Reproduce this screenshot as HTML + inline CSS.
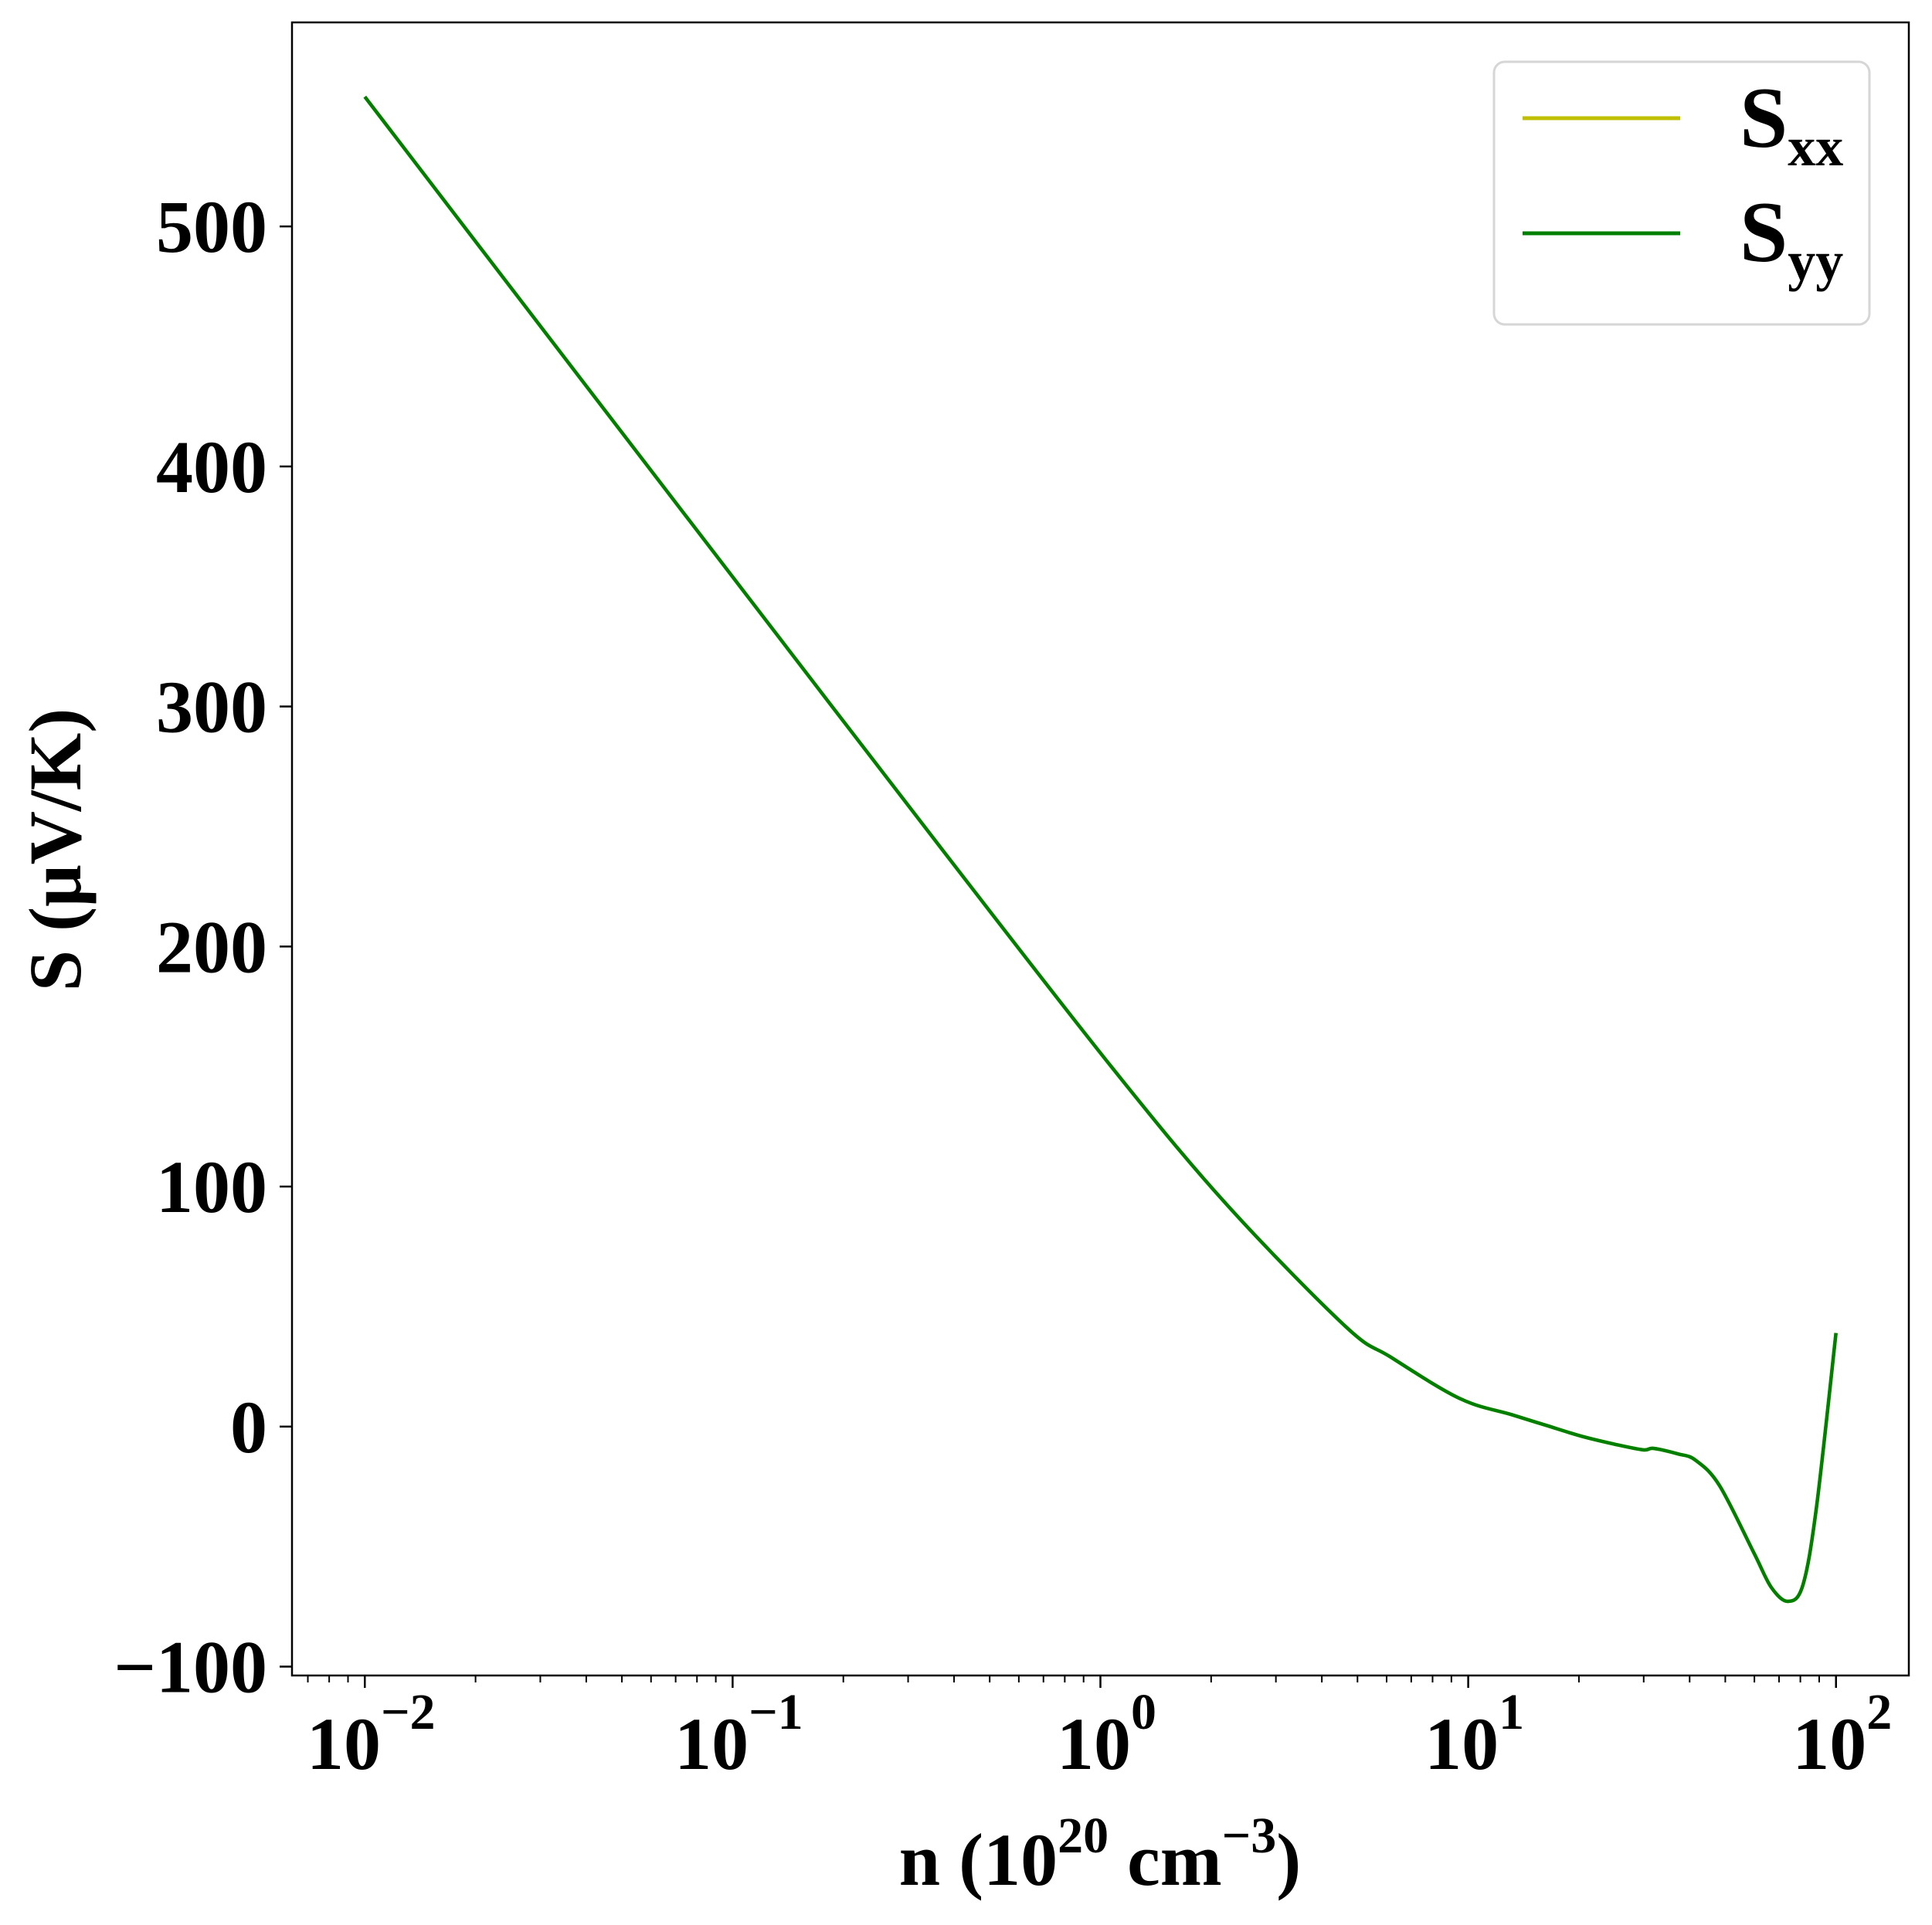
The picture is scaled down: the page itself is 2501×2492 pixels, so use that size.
<!DOCTYPE html>
<html><head><meta charset="utf-8"><title>Seebeck coefficient vs carrier concentration</title>
<style>
html,body{margin:0;padding:0;background:#fff;}
svg{display:block;font-family:"Liberation Serif","DejaVu Serif",serif;font-weight:bold;}
</style></head>
<body>
<svg id="chart" width="2501" height="2492" viewBox="0 0 2501 2492" xmlns="http://www.w3.org/2000/svg">
<rect x="0" y="0" width="2501" height="2492" fill="#fff"/>
<g id="plot"></g>
<g id="xticks"></g>
<g id="yticks"></g>
<rect x="378" y="29" width="2093" height="2140" fill="none" stroke="#000" stroke-width="2.5"/>
<text x="1424" y="2440" text-anchor="middle" font-size="96">n (10<tspan dy="-42" font-size="66">20</tspan><tspan dy="42"> cm</tspan><tspan dy="-42" font-size="66">−3</tspan><tspan dy="42">)</tspan></text>
<text transform="translate(104,1100) rotate(-90)" text-anchor="middle" font-size="96">S (μV/K)</text>
<g>
<rect x="1934" y="80" width="486" height="340" rx="14" fill="#fff" fill-opacity="0.8" stroke="#d6d6d6" stroke-width="3"/>
<line x1="1971" y1="153" x2="2175" y2="153" stroke="#bfbf00" stroke-width="5"/>
<text x="2252" y="190" font-size="112">S<tspan font-size="72" dy="24">xx</tspan></text>
<line x1="1971" y1="302" x2="2175" y2="302" stroke="#008000" stroke-width="5"/>
<text x="2252" y="338" font-size="112">S<tspan font-size="72" dy="24">yy</tspan></text>
</g>
</svg>
<script>
const nValues = [0.01, 0.0316, 0.1, 0.373, 1.07, 2.19, 4.62, 6.15, 9.48, 13.1, 16.3, 20.3, 25.1, 29.9, 31.9, 37.2, 41.5, 48.2, 59.8, 66.7, 74.1, 81.3, 88.5, 100];
const sxxValues = [554, 454, 354, 240, 150, 93, 42, 29, 11.7, 5, 0.5, -4, -7.4, -9.7, -9.1, -11.4, -14, -24.5, -52.6, -67, -72.8, -66, -33.5, 39];
const syyValues = [554, 454, 354, 240, 150, 93, 42, 29, 11.7, 5, 0.5, -4, -7.4, -9.7, -9.1, -11.4, -14, -24.5, -52.6, -67, -72.8, -66, -33.5, 39];
const xMajorExps = [-2, -1, 0, 1, 2];
const yTickValues = [-100, 0, 100, 200, 300, 400, 500];
const yTickLabels = ["−100", "0", "100", "200", "300", "400", "500"];

const NS = "http://www.w3.org/2000/svg";
const L = 378, R = 2471, T = 29, B = 2169;
const xLogMin = -2.198, xLogMax = 2.198, yMin = -103.7, yMax = 585;
function xScale(n){ return L + (Math.log10(n) - xLogMin) / (xLogMax - xLogMin) * (R - L); }
function yScale(v){ return B - (v - yMin) / (yMax - yMin) * (B - T); }
function mk(tag, attrs, parent){ const e = document.createElementNS(NS, tag); for (const k in attrs) e.setAttribute(k, attrs[k]); parent.appendChild(e); return e; }

function pathFor(xs, ys){
  const p = xs.map((n, i) => [xScale(n), yScale(ys[i])]);
  let d = "M" + p[0][0].toFixed(1) + "," + p[0][1].toFixed(1);
  for (let i = 0; i < p.length - 1; i++){
    const p0 = p[Math.max(0, i - 1)], p1 = p[i], p2 = p[i + 1], p3 = p[Math.min(p.length - 1, i + 2)];
    const c1x = p1[0] + (p2[0] - p0[0]) / 6, c1y = p1[1] + (p2[1] - p0[1]) / 6;
    const c2x = p2[0] - (p3[0] - p1[0]) / 6, c2y = p2[1] - (p3[1] - p1[1]) / 6;
    d += " C" + c1x.toFixed(1) + "," + c1y.toFixed(1) + " " + c2x.toFixed(1) + "," + c2y.toFixed(1) + " " + p2[0].toFixed(1) + "," + p2[1].toFixed(1);
  }
  return d;
}

const plot = document.getElementById("plot");
const lx = mk("path", {d: pathFor(nValues, sxxValues), fill: "none", stroke: "#bfbf00", "stroke-width": 4.5}, plot);


const ly = mk("path", {d: pathFor(nValues, syyValues), fill: "none", stroke: "#008000", "stroke-width": 4.5}, plot);



const xg = document.getElementById("xticks");
for (let e = -3; e <= 2; e++){
  for (let m = 1; m <= 9; m++){
    const n = m * Math.pow(10, e);
    const lg = Math.log10(n);
    if (lg < xLogMin || lg > xLogMax) continue;
    const x = xScale(n);
    const major = (m === 1);
    const t = mk("line", {x1: x, y1: B, x2: x, y2: B + (major ? 16 : 9), stroke: "#000", "stroke-width": major ? 2.5 : 2}, xg);
    
    
  }
}
xMajorExps.forEach(e => {
  const x = xScale(Math.pow(10, e));
  const tx = mk("text", {x: x + 8, y: 2290, "text-anchor": "middle", "font-size": 96}, xg);
  
  
  tx.textContent = "10";
  const s = document.createElementNS(NS, "tspan");
  s.setAttribute("dy", "-52");
  s.setAttribute("font-size", "66");
  s.textContent = e < 0 ? "−" + Math.abs(e) : String(e);
  tx.appendChild(s);
});

const yg = document.getElementById("yticks");
yTickValues.forEach((v, i) => {
  const y = yScale(v);
  const t = mk("line", {x1: L - 16, y1: y, x2: L, y2: y, stroke: "#000", "stroke-width": 2.5}, yg);
  
  
  const tx = mk("text", {x: 346, y: y + 33, "text-anchor": "end", "font-size": 96}, yg);
  
  
  tx.textContent = yTickLabels[i];
});
</script>
</body></html>
